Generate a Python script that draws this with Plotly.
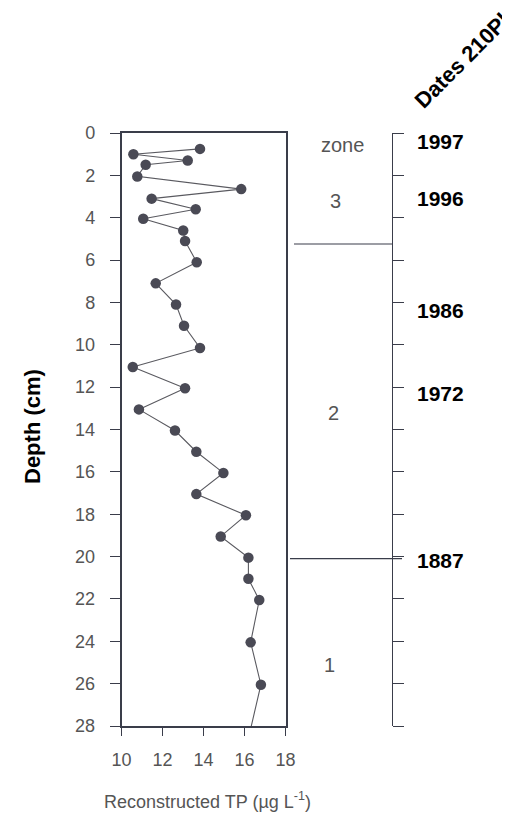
import plotly.graph_objects as go

# ---- data ----
depth_cm = [0.75, 1.0, 1.3, 1.5, 2.05, 2.65, 3.1, 3.6, 4.05, 4.6, 5.1, 6.1, 7.1, 8.1,
            9.1, 10.15, 11.05, 12.05, 13.05, 14.05, 15.05, 16.05, 17.05, 18.05, 19.05,
            20.05, 21.05, 22.05, 24.05, 26.05, 28.05]
tp_ugl = [13.83, 10.58, 13.23, 11.18, 10.77, 15.84, 11.47, 13.62, 11.06, 13.01, 13.10,
          13.67, 11.67, 12.66, 13.05, 13.83, 10.55, 13.10, 10.85, 12.61, 13.65, 14.97,
          13.65, 16.07, 14.84, 16.19, 16.19, 16.72, 16.30, 16.80, 16.32]

x_ticks = [10, 12, 14, 16, 18]
y_ticks = list(range(0, 29, 2))

date_labels = ["1997", "1996", "1986", "1972", "1887"]
date_depths = [0.4, 3.1, 8.4, 12.3, 20.2]

zone_labels = ["3", "2", "1"]
zone_label_depths = [3.2, 13.2, 25.1]
zone_boundaries = [5.24, 20.1]

W, H = 510, 819
OFF = 8  # page body margin
def px(x):
    return (x - OFF) / W
def py(y):
    return 1 - (y - OFF) / H

axis_col = "#3a3d4a"
text_col = "#555555"

fig = go.Figure()
fig.add_trace(go.Scatter(
    x=tp_ugl, y=depth_cm, mode="lines+markers",
    line=dict(color="#5a5a60", width=1.1),
    marker=dict(color="#4a4a55", size=10.5),
    cliponaxis=False, showlegend=False,
))
# dummy trace to render the dates axis
fig.add_trace(go.Scatter(x=[None], y=[None], yaxis="y2", showlegend=False))

fig.update_layout(
    width=W, height=H,
    margin=dict(l=0, r=0, t=0, b=0, autoexpand=False),
    paper_bgcolor="white", plot_bgcolor="white",
    font=dict(family="Liberation Sans, Arial, sans-serif", color=text_col),
    xaxis=dict(
        domain=[px(121.5), px(285.5)], range=[10, 18],
        tickvals=x_ticks, ticks="outside", ticklen=8, tickwidth=1.3,
        tickcolor=axis_col, showline=True, linecolor=axis_col, linewidth=1.5,
        mirror=True, showgrid=False, zeroline=False, automargin=False,
        tickfont=dict(size=18, color=text_col), ticklabelstandoff=9,
    ),
    yaxis=dict(
        domain=[py(726), py(133)], range=[28, 0],
        tickvals=y_ticks, ticks="outside", ticklen=10, tickwidth=1.3,
        tickcolor=axis_col, showline=True, linecolor=axis_col, linewidth=1.5,
        mirror=True, showgrid=False, zeroline=False, automargin=False,
        tickfont=dict(size=18, color=text_col), ticklabelstandoff=11,
    ),
    yaxis2=dict(
        domain=[py(730), py(137)], range=[28, 0],
        overlaying="y", anchor="free", position=px(392), side="right",
        tickvals=y_ticks, ticks="outside", ticklen=11, tickwidth=1.2,
        tickcolor=axis_col, showline=True, linecolor=axis_col, linewidth=1.3,
        showticklabels=False, showgrid=False, zeroline=False, automargin=False,
    ),
)

# zone boundary lines
fig.add_shape(type="line", xref="paper", yref="y", x0=px(294), x1=px(393),
              y0=zone_boundaries[0], y1=zone_boundaries[0],
              line=dict(color=axis_col, width=1.2))
fig.add_shape(type="line", xref="paper", yref="y", x0=px(290), x1=px(402),
              y0=zone_boundaries[1], y1=zone_boundaries[1],
              line=dict(color=axis_col, width=1.2))

ann = []
ann.append(dict(text="zone", xref="paper", yref="paper", x=px(342), y=py(145),
                showarrow=False, font=dict(size=20, color=text_col),
                xanchor="center", yanchor="middle"))
for lab, d, xx in zip(zone_labels, zone_label_depths, [335, 333, 329]):
    ann.append(dict(text=lab, xref="paper", yref="y", x=px(xx), y=d,
                    showarrow=False, font=dict(size=20, color=text_col),
                    xanchor="center", yanchor="middle"))
for lab, d in zip(date_labels, date_depths):
    ann.append(dict(text="<b>" + lab + "</b>", xref="paper", yref="y2", x=px(415), y=d,
                    showarrow=False, font=dict(size=21, color="black"),
                    xanchor="left", yanchor="middle"))
ann.append(dict(text="<b>Depth (cm)</b>", xref="paper", yref="paper", x=px(33), y=py(427),
                textangle=-90, showarrow=False, font=dict(size=22, color="black"),
                xanchor="center", yanchor="middle"))
ann.append(dict(text="Reconstructed TP (µg L<sup>-1</sup>)", xref="paper", yref="paper",
                x=px(207), y=py(800), showarrow=False,
                font=dict(size=18, color=text_col), xanchor="center", yanchor="middle"))
ann.append(dict(text="<b>Dates 210Pb</b>", xref="paper", yref="paper",
                x=px(464), y=py(58), textangle=-45, showarrow=False,
                font=dict(size=22, color="black"), xanchor="center", yanchor="middle"))
fig.update_layout(annotations=ann)

fig.write_html("out.html")
